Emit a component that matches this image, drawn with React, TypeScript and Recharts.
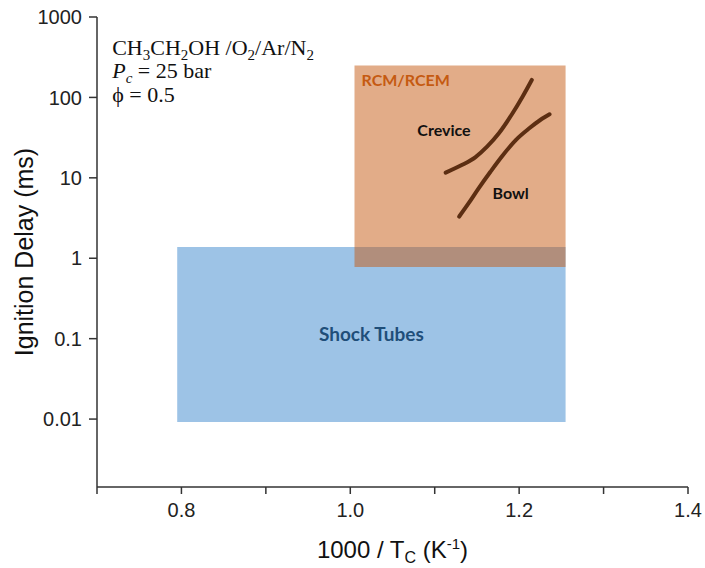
import React from 'react';
import {
  ComposedChart,
  Line,
  XAxis,
  YAxis,
  ReferenceArea,
  ReferenceDot,
} from 'recharts';

// axis ticks
const X_TICKS = [0.7, 0.8, 0.9, 1.0, 1.1, 1.2, 1.3, 1.4];
const X_TICK_LABELS = ['', '0.8', '', '1.0', '', '1.2', '', '1.4'];
const Y_TICKS = [0.01, 0.1, 1, 10, 100, 1000];
const Y_TICK_LABELS = ['0.01', '0.1', '1', '10', '100', '1000'];
const Y_MIN = 0.00143;
const Y_MAX = 1000;

// measured ignition delay curves (1000/T, ms)
const CREVICE_X = [1.113, 1.132, 1.148, 1.162, 1.176, 1.192, 1.204, 1.215];
const CREVICE_Y = [11.6, 14.4, 18, 24.4, 35.8, 63, 102, 165];
const BOWL_X = [1.129, 1.14, 1.152, 1.166, 1.18, 1.196, 1.212, 1.225, 1.236];
const BOWL_Y = [3.3, 4.8, 7.4, 11.9, 18.7, 29.5, 41.3, 52.4, 61.7];

// operating regions of each facility: [x1, x2, y1, y2]
const SHOCK_TUBE_REGION = [0.795, 1.255, 0.0092, 1.38];
const RCM_REGION = [1.005, 1.255, 0.78, 250];

// text anchors
const CREVICE_LABEL = [1.111, 39];
const BOWL_LABEL = [1.19, 6.5];
const CONDITIONS_ANCHOR = [0.718, 336];

const crevice = CREVICE_X.map((x, i) => ({ x, y: CREVICE_Y[i] }));
const bowl = BOWL_X.map((x, i) => ({ x, y: BOWL_Y[i] }));

const AXIS = { stroke: '#333', strokeWidth: 1.5 };
const SANS = 'Liberation Sans, Arial, sans-serif';
const TICK_FONT = { fontSize: 20, fill: '#222', fontFamily: SANS };
const BOX_FONT = 'Lato, "Open Sans", sans-serif';

const xLabel = (v: number) => {
  const i = X_TICKS.findIndex((t) => Math.abs(t - v) < 1e-6);
  return i >= 0 ? X_TICK_LABELS[i] : '';
};
const yLabel = (v: number) => {
  const i = Y_TICKS.findIndex((t) => Math.abs(t - v) / t < 1e-6);
  return i >= 0 ? Y_TICK_LABELS[i] : '';
};

const XTitle = ({ viewBox }: any) => {
  const cx = viewBox.x + viewBox.width / 2;
  return (
    <text x={cx} y={viewBox.y + 71} textAnchor="middle" fontSize={24} fill="#111" fontFamily={SANS}>
      1000 / T<tspan fontSize={16} dy={5}>C</tspan>
      <tspan dy={-5}> (K</tspan>
      <tspan fontSize={15} dy={-9}>-1</tspan>
      <tspan dy={9}>)</tspan>
    </text>
  );
};

const YTitle = ({ viewBox }: any) => {
  const x = 33;
  const y = viewBox.y + viewBox.height / 2;
  return (
    <text x={x} y={y} transform={`rotate(-90, ${x}, ${y})`} textAnchor="middle" fontSize={25}
      fill="#111" fontFamily={SANS}>
      Ignition Delay (ms)
    </text>
  );
};

const Conditions = ({ viewBox }: any) => {
  const x = viewBox.x;
  const y = viewBox.y;
  const sub = { fontSize: 15, dy: 5 };
  return (
    <text x={x} y={y} fontSize={22} fill="#111" fontFamily="Liberation Serif, serif">
      <tspan x={x} y={y}>CH</tspan>
      <tspan {...sub}>3</tspan>
      <tspan dy={-5}>CH</tspan>
      <tspan {...sub}>2</tspan>
      <tspan dy={-5}>OH /O</tspan>
      <tspan {...sub}>2</tspan>
      <tspan dy={-5}>/Ar/N</tspan>
      <tspan {...sub}>2</tspan>
      <tspan x={x} y={y + 23} fontStyle="italic">P</tspan>
      <tspan fontStyle="italic" fontSize={15} dy={5}>c</tspan>
      <tspan dy={-5}> = 25 bar</tspan>
      <tspan x={x} y={y + 47}>ϕ = 0.5</tspan>
    </text>
  );
};

const RcmTitle = ({ viewBox }: any) => (
  <text x={viewBox.x + 7} y={viewBox.y + 21} fontSize={16} fontWeight="bold" fill="#C55A11"
    fontFamily={BOX_FONT}>
    RCM/RCEM
  </text>
);

const ShockTitle = ({ viewBox }: any) => (
  <text x={viewBox.x + viewBox.width / 2} y={viewBox.y + viewBox.height / 2 + 7}
    textAnchor="middle" fontSize={19} fontWeight="bold" fill="#1F4E79" fontFamily={BOX_FONT}>
    Shock Tubes
  </text>
);

const curveLabel = (text: string) => ({ viewBox }: any) => (
  <text x={viewBox.x + viewBox.width / 2} y={viewBox.y + 6} textAnchor="middle" fontSize={16}
    fontWeight="bold" fill="#111" fontFamily={BOX_FONT}>
    {text}
  </text>
);

export default function App() {
  return (
    <div style={{ position: 'absolute', left: 0, top: 0 }}>
      <ComposedChart width={705} height={568} margin={{ top: 17, right: 17, bottom: 0, left: 0 }}>
        <XAxis
          xAxisId={0}
          dataKey="x"
          type="number"
          domain={[0.7, 1.4]}
          allowDataOverflow
          ticks={X_TICKS}
          tickFormatter={xLabel}
          interval={0}
          height={81}
          tickSize={7}
          tickMargin={9}
          axisLine={AXIS}
          tickLine={AXIS}
          tick={TICK_FONT}
          label={{ content: XTitle }}
        />
        <XAxis
          xAxisId="top"
          orientation="top"
          type="number"
          domain={[0.7, 1.4]}
          allowDataOverflow
          ticks={X_TICKS}
          interval={0}
          height={0}
          mirror
          tickSize={7}
          axisLine={AXIS}
          tickLine={AXIS}
          tick={false}
        />
        <YAxis
          yAxisId={0}
          type="number"
          scale="log"
          domain={[Y_MIN, Y_MAX]}
          allowDataOverflow
          ticks={Y_TICKS}
          tickFormatter={yLabel}
          interval={0}
          width={97}
          tickSize={8}
          tickMargin={7}
          axisLine={AXIS}
          tickLine={AXIS}
          tick={TICK_FONT}
          label={{ content: YTitle }}
        />
        <YAxis
          yAxisId="right"
          orientation="right"
          type="number"
          scale="log"
          domain={[Y_MIN, Y_MAX]}
          allowDataOverflow
          ticks={Y_TICKS}
          interval={0}
          width={0}
          mirror
          tickSize={8}
          axisLine={AXIS}
          tickLine={AXIS}
          tick={false}
        />

        <ReferenceArea
          x1={SHOCK_TUBE_REGION[0]}
          x2={SHOCK_TUBE_REGION[1]}
          y1={SHOCK_TUBE_REGION[2]}
          y2={SHOCK_TUBE_REGION[3]}
          fill="#9DC3E6"
          fillOpacity={1}
          stroke="none"
          label={{ content: ShockTitle }}
        />
        <ReferenceArea
          x1={RCM_REGION[0]}
          x2={RCM_REGION[1]}
          y1={RCM_REGION[2]}
          y2={RCM_REGION[3]}
          fill="#C55A11"
          fillOpacity={0.5}
          stroke="none"
          label={{ content: RcmTitle }}
        />

        <Line data={crevice} dataKey="y" type="monotone" stroke="#5C2E12" strokeWidth={4}
          strokeLinecap="round" dot={false} isAnimationActive={false} />
        <Line data={bowl} dataKey="y" type="monotone" stroke="#5C2E12" strokeWidth={4}
          strokeLinecap="round" dot={false} isAnimationActive={false} />

        <ReferenceDot x={CREVICE_LABEL[0]} y={CREVICE_LABEL[1]} r={0} stroke="none" fill="none"
          label={{ content: curveLabel('Crevice') }} />
        <ReferenceDot x={BOWL_LABEL[0]} y={BOWL_LABEL[1]} r={0} stroke="none" fill="none"
          label={{ content: curveLabel('Bowl') }} />
        <ReferenceDot x={CONDITIONS_ANCHOR[0]} y={CONDITIONS_ANCHOR[1]} r={0} stroke="none"
          fill="none" label={{ content: Conditions }} />
      </ComposedChart>
    </div>
  );
}
